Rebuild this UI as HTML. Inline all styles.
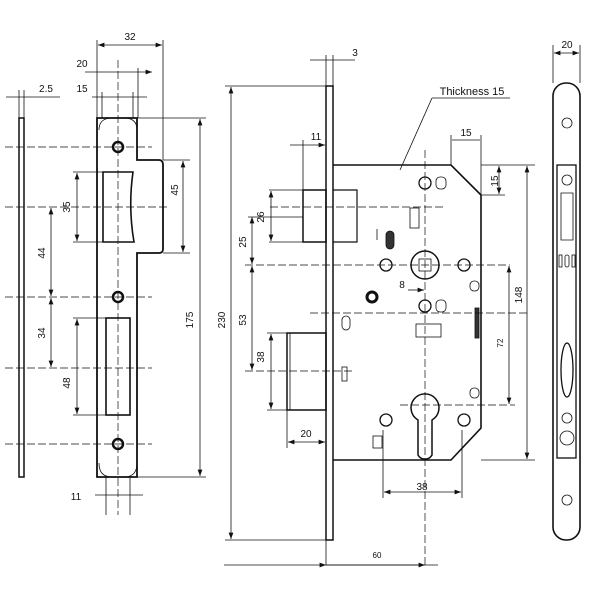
<!DOCTYPE html>
<html><head><style>body{margin:0;background:#fff}svg{display:block}</style></head><body>
<svg width="600" height="600" viewBox="0 0 600 600" xmlns="http://www.w3.org/2000/svg" font-family="Liberation Sans, sans-serif" font-size="10" fill="none" stroke="#111">
<defs><marker id="a" markerWidth="8" markerHeight="6" refX="8" refY="3" orient="auto-start-reverse"><path d="M0,0L8,3L0,6z" fill="#111" stroke="none"/></marker></defs>
<g stroke-width="0.8">
<!-- LEFT strike -->
<rect x="19" y="118" width="5" height="359" stroke-width="1.5"/>
<path d="M97,118H137V160H159Q163,160 163,165V249Q163,253 159,253H137V477H97Z" stroke-width="1.8"/>
<path d="M112,118Q99,118 99,130 M124,118Q137,118 137,130 M99,463Q99,477 112,477 M137,463Q137,477 124,477"/>
<circle cx="118" cy="147" r="5" stroke-width="2.5"/><circle cx="118" cy="297" r="5" stroke-width="2.5"/><circle cx="118" cy="444" r="5" stroke-width="2.5"/>
<path d="M103,172H133Q128,207 134,242H103Z" stroke-width="1.6"/>
<rect x="106" y="318" width="24" height="97" stroke-width="1.6"/>
<g stroke-dasharray="8,3" stroke-width="0.7">
<line x1="118" y1="60" x2="118" y2="515"/>
<line x1="5" y1="147" x2="152" y2="147"/><line x1="5" y1="207" x2="170" y2="207"/><line x1="5" y1="297" x2="152" y2="297"/><line x1="5" y1="368" x2="152" y2="368"/><line x1="5" y1="444" x2="152" y2="444"/>
</g>
<line x1="97" y1="40" x2="97" y2="118"/><line x1="163" y1="40" x2="163" y2="160"/>
<line x1="98" y1="45" x2="162" y2="45" marker-start="url(#a)" marker-end="url(#a)"/>
<line x1="138" y1="68" x2="138" y2="118"/><line x1="85" y1="72" x2="152" y2="72" marker-end="url(#a)"/>
<line x1="102" y1="92" x2="102" y2="118"/><line x1="133" y1="92" x2="133" y2="118"/><line x1="92" y1="97" x2="147" y2="97"/>
<line x1="19" y1="90" x2="19" y2="118"/><line x1="24" y1="90" x2="24" y2="118"/><line x1="6" y1="97" x2="60" y2="97"/>
<line x1="73" y1="172" x2="103" y2="172"/><line x1="73" y1="242" x2="103" y2="242"/><line x1="77" y1="173" x2="77" y2="241" marker-start="url(#a)" marker-end="url(#a)"/>
<line x1="51" y1="208" x2="51" y2="296" marker-start="url(#a)" marker-end="url(#a)"/><line x1="51" y1="298" x2="51" y2="367" marker-start="url(#a)" marker-end="url(#a)"/>
<line x1="73" y1="318" x2="106" y2="318"/><line x1="73" y1="415" x2="106" y2="415"/><line x1="77" y1="319" x2="77" y2="414" marker-start="url(#a)" marker-end="url(#a)"/>
<line x1="163" y1="160" x2="190" y2="160"/><line x1="163" y1="253" x2="190" y2="253"/><line x1="183" y1="161" x2="183" y2="252" marker-start="url(#a)" marker-end="url(#a)"/>
<line x1="137" y1="118" x2="206" y2="118"/><line x1="137" y1="477" x2="206" y2="477"/><line x1="200" y1="119" x2="200" y2="476" marker-start="url(#a)" marker-end="url(#a)"/>
<line x1="106" y1="477" x2="106" y2="515"/><line x1="130" y1="477" x2="130" y2="515"/><line x1="95" y1="495" x2="143" y2="495"/>
<!-- MIDDLE lock -->
<rect x="326" y="86" width="7" height="454" stroke-width="1.5"/>
<line x1="225" y1="86" x2="326" y2="86"/><line x1="225" y1="540" x2="326" y2="540"/>
<line x1="231" y1="87" x2="231" y2="539" marker-start="url(#a)" marker-end="url(#a)"/>
<path d="M333,165H451L481,195V428L451,460H333" stroke-width="1.6"/>
<rect x="303" y="190" width="23" height="52" stroke-width="1.5"/><path d="M333,190H357V242H333" stroke-width="1.2"/>
<rect x="287" y="333" width="39" height="77" stroke-width="1.5"/><line x1="290" y1="333" x2="290" y2="410"/>
<circle cx="425" cy="265" r="14" stroke-width="1.5"/><rect x="419" y="259" width="12" height="12"/>
<circle cx="386" cy="265" r="6" stroke-width="1.3"/><circle cx="464" cy="265" r="6" stroke-width="1.3"/>
<circle cx="425" cy="306" r="6" stroke-width="1.3"/><circle cx="372" cy="297" r="5" stroke-width="3"/>
<circle cx="425" cy="183" r="6" stroke-width="1.3"/><rect x="436" y="177" width="10" height="12" rx="4"/>
<rect x="410" y="208" width="9" height="20"/><rect x="386" y="231" width="8" height="18" rx="4" fill="#333"/>
<rect x="416" y="324" width="25" height="13"/><rect x="436" y="300" width="10" height="12" rx="4"/>
<circle cx="386" cy="420" r="6" stroke-width="1.3"/><circle cx="464" cy="420" r="6" stroke-width="1.3"/>
<path d="M418,455A8,8 0 0 0 432,455V420A14,14 0 1 0 418,420Z" stroke-width="1.5"/>
<rect x="373" y="436" width="9" height="12"/><rect x="342" y="316" width="8" height="14" rx="4"/><rect x="342" y="367" width="5" height="14"/>
<rect x="475" y="308" width="4" height="30" fill="#333"/>
<rect x="470" y="281" width="9" height="10" rx="4"/><rect x="470" y="388" width="9" height="10" rx="4"/>
<line x1="377" y1="229" x2="377" y2="240"/>
<g stroke-dasharray="8,3" stroke-width="0.7">
<line x1="425" y1="150" x2="425" y2="565"/>
<line x1="245" y1="265" x2="510" y2="265"/><line x1="310" y1="313" x2="530" y2="313"/><line x1="245" y1="371" x2="355" y2="371"/><line x1="400" y1="405" x2="515" y2="405"/><line x1="270" y1="207" x2="445" y2="207"/>
</g>
<line x1="269" y1="190" x2="303" y2="190"/><line x1="269" y1="242" x2="303" y2="242"/><line x1="271" y1="191" x2="271" y2="241" marker-start="url(#a)" marker-end="url(#a)"/>
<line x1="252" y1="217" x2="252" y2="264" marker-start="url(#a)" marker-end="url(#a)"/><line x1="248" y1="217" x2="303" y2="217"/>
<line x1="252" y1="266" x2="252" y2="370" marker-start="url(#a)" marker-end="url(#a)"/>
<line x1="267" y1="333" x2="287" y2="333"/><line x1="267" y1="410" x2="287" y2="410"/><line x1="271" y1="334" x2="271" y2="409" marker-start="url(#a)" marker-end="url(#a)"/>
<line x1="287" y1="410" x2="287" y2="448"/><line x1="288" y1="442" x2="325" y2="442" marker-start="url(#a)" marker-end="url(#a)"/>
<line x1="303" y1="140" x2="303" y2="190"/><line x1="290" y1="145" x2="325" y2="145" marker-end="url(#a)"/>
<line x1="326" y1="55" x2="326" y2="86"/><line x1="333" y1="55" x2="333" y2="86"/><line x1="310" y1="60" x2="355" y2="60"/>
<line x1="451" y1="135" x2="451" y2="165"/><line x1="481" y1="135" x2="481" y2="195"/><line x1="452" y1="140" x2="480" y2="140"/>
<line x1="481" y1="165" x2="535" y2="165"/><line x1="481" y1="195" x2="505" y2="195"/><line x1="499" y1="166" x2="499" y2="194" marker-start="url(#a)" marker-end="url(#a)"/>
<line x1="481" y1="460" x2="535" y2="460"/><line x1="527" y1="166" x2="527" y2="459" marker-start="url(#a)" marker-end="url(#a)"/>
<line x1="509" y1="266" x2="509" y2="404" marker-start="url(#a)" marker-end="url(#a)"/>
<line x1="383" y1="430" x2="383" y2="498"/><line x1="462" y1="430" x2="462" y2="498"/><line x1="384" y1="492" x2="461" y2="492" marker-start="url(#a)" marker-end="url(#a)"/>
<line x1="408" y1="290" x2="424" y2="290" marker-end="url(#a)"/>
<line x1="326" y1="540" x2="326" y2="565"/>
<line x1="224" y1="565" x2="326" y2="565" marker-end="url(#a)"/><line x1="326" y1="565" x2="438" y2="565"/><line x1="326" y1="565" x2="425" y2="565" marker-end="url(#a)"/>
<line x1="400" y1="170" x2="432" y2="98"/><line x1="432" y1="98" x2="510" y2="98"/>
<!-- RIGHT faceplate -->
<rect x="553" y="83" width="27" height="457" rx="13" stroke-width="1.6"/>
<line x1="553" y1="45" x2="553" y2="83"/><line x1="580" y1="45" x2="580" y2="83"/><line x1="554" y1="53" x2="579" y2="53" marker-start="url(#a)" marker-end="url(#a)"/>
<rect x="557" y="165" width="19" height="293" stroke-width="1.3"/>
<circle cx="567" cy="123" r="5"/><circle cx="567" cy="500" r="5"/><circle cx="567" cy="180" r="5"/><circle cx="567" cy="418" r="5"/><circle cx="567" cy="438" r="7"/>
<path d="M561,193H573V240H561Z"/><rect x="565" y="255" width="4" height="12" rx="2"/><rect x="559" y="255" width="3" height="12"/><rect x="572" y="255" width="3" height="12"/>
<ellipse cx="567" cy="370" rx="6" ry="27" stroke-width="1.3"/>
</g>
<g fill="#111" stroke="none" font-size="10" text-anchor="middle">
<text x="130" y="40">32</text><text x="82" y="67">20</text><text x="82" y="92">15</text><text x="46" y="92">2.5</text><text x="76" y="500">11</text>
<text transform="translate(70,207) rotate(-90)">35</text><text transform="translate(45,253) rotate(-90)">44</text><text transform="translate(45,333) rotate(-90)">34</text><text transform="translate(70,383) rotate(-90)">48</text>
<text transform="translate(178,190) rotate(-90)">45</text><text transform="translate(193,320) rotate(-90)">175</text><text transform="translate(225,320) rotate(-90)">230</text>
<text x="355" y="56">3</text><text x="316" y="140">11</text><text x="466" y="136">15</text><text x="472" y="95" font-size="11">Thickness 15</text>
<text transform="translate(264,217) rotate(-90)">26</text><text transform="translate(246,242) rotate(-90)">25</text><text transform="translate(246,320) rotate(-90)">53</text><text transform="translate(264,357) rotate(-90)">38</text>
<text x="306" y="437">20</text><text x="402" y="288">8</text><text x="422" y="490">38</text><text x="377" y="558" font-size="8">60</text>
<text transform="translate(498,181) rotate(-90)">15</text><text transform="translate(522,295) rotate(-90)">148</text><text transform="translate(503,343) rotate(-90)" font-size="8">72</text>
<text x="567" y="48">20</text>
</g>
</svg>
</body></html>
